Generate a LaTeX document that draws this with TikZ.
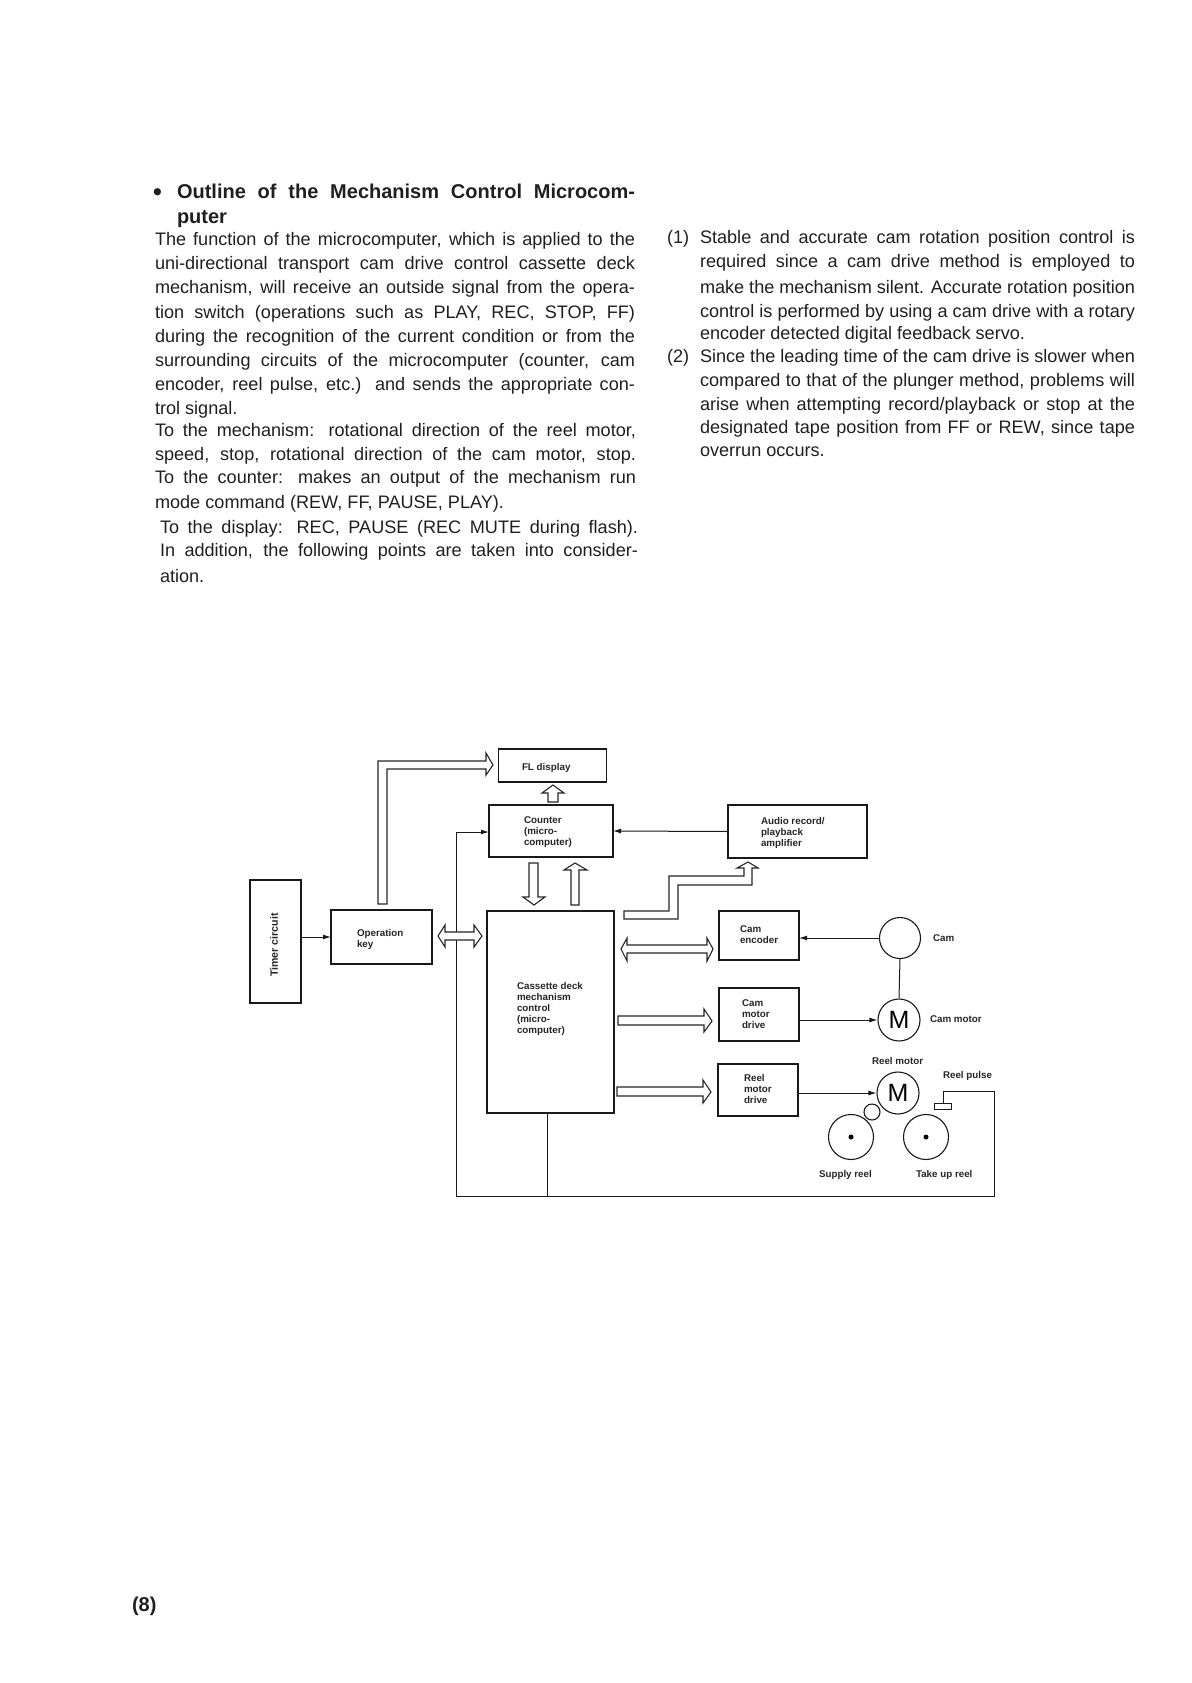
\documentclass[tikz,border=0pt]{standalone}
\usepackage{fontspec}
\setmainfont{Liberation Sans}
\usetikzlibrary{arrows.meta}
\newcommand{\bodyline}[4]{\node[txt,anchor=base west] (#4) at (#1,#2) {\fontsize{18.1}{20}\selectfont #3};}
\newcommand{\fitline}[5]{\node[txt,anchor=base west] (#5) at (#1,#2) {\fontsize{18.1}{20}\selectfont\makebox[#3pt][s]{#4}};}
\tikzset{
 txt/.style={inner sep=0pt,outer sep=0pt,text=black!88},
 blockbox/.style={draw=black!90,line width=1.5pt,fill=white,inner sep=0pt,outer sep=0pt},
 lab/.style={inner sep=0pt,outer sep=0pt,align=left,anchor=north west,font=\fontsize{9.8}{11}\selectfont\bfseries,text=black!85},
 hollow/.style={draw=black!85,line width=1.1pt,fill=white,line join=miter},
 wire/.style={draw=black!90,line width=1pt},
 sig/.style={wire,-{Latex[length=8pt,width=5pt]}},
 ring/.style={circle,draw=black!90,line width=1.1pt,inner sep=0pt,fill=white},
 hub/.style={circle,fill=black,minimum size=5pt,inner sep=0pt},
}
\begin{document}
\begin{tikzpicture}[x=1pt,y=-1pt]
\useasboundingbox (0,0) rectangle (1191,1683);
\node[txt,anchor=base west,font=\fontsize{25}{24}\selectfont\bfseries] (bullet) at (153,200) {\textbullet};
\node[txt,anchor=base west,font=\fontsize{20}{24}\selectfont\bfseries] (h1) at (177,198) {\makebox[458pt][s]{Outline of the Mechanism Control Microcom-}};
\node[txt,anchor=base west,font=\fontsize{20}{24}\selectfont\bfseries] (h2) at (177,223) {puter};
\fitline{155}{245}{480}{The function of the microcomputer, which is applied to the}{a1}
\fitline{155}{269}{480}{uni-directional transport cam drive control cassette deck}{a2}
\fitline{155}{293}{480}{mechanism, will receive an outside signal from the opera-}{a3}
\fitline{155}{318}{480}{tion switch (operations such as PLAY, REC, STOP, FF)}{a4}
\fitline{155}{342}{480}{during the recognition of the current condition or from the}{a5}
\fitline{155}{366}{480}{surrounding circuits of the microcomputer (counter, cam}{a6}
\fitline{155}{390}{480}{encoder, reel pulse, etc.) and sends the appropriate con-}{a7}
\bodyline{155}{414}{trol signal.}{a8}
\fitline{155}{436}{481}{To the mechanism: rotational direction of the reel motor,}{a9}
\fitline{155}{460}{481}{speed, stop, rotational direction of the cam motor, stop.}{a10}
\fitline{155}{483}{481}{To the counter: makes an output of the mechanism run}{a11}
\fitline{155}{508}{349}{mode command (REW, FF, PAUSE, PLAY).}{a12}
\fitline{160}{533}{478}{To the display: REC, PAUSE (REC MUTE during flash).}{a13}
\fitline{160}{556}{478}{In addition, the following points are taken into consider-}{a14}
\bodyline{160}{582}{ation.}{a15}
\bodyline{667}{243}{(1)}{b0}
\fitline{700}{243}{435}{Stable and accurate cam rotation position control is}{b1}
\fitline{700}{267}{435}{required since a cam drive method is employed to}{b2}
\fitline{700}{293}{435}{make the mechanism silent. Accurate rotation position}{b3}
\fitline{700}{317}{435}{control is performed by using a cam drive with a rotary}{b4}
\bodyline{700}{339}{encoder detected digital feedback servo.}{b5}
\bodyline{667}{362}{(2)}{b6}
\fitline{700}{362}{435}{Since the leading time of the cam drive is slower when}{b7}
\fitline{700}{386}{435}{compared to that of the plunger method, problems will}{b8}
\fitline{700}{410}{435}{arise when attempting record/playback or stop at the}{b9}
\fitline{700}{433}{435}{designated tape position from FF or REW, since tape}{b10}
\bodyline{700}{456}{overrun occurs.}{b11}
\node[txt,anchor=base west,font=\fontsize{20}{20}\selectfont\bfseries] (page) at (132,1611) {(8)};
% free wire corners
\coordinate (rc) at (994,1091);
\coordinate (br) at (994,1196);
\coordinate (bl) at (456,1196);
\coordinate (lt) at (456,832);
\coordinate (bm) at (547,1196);
% blocks
\node[blockbox,minimum width=108pt,minimum height=33pt] (fl) at (552.5,765.5) {};
\node[blockbox,minimum width=124pt,minimum height=52pt] (counter) at (551,831) {};
\node[blockbox,minimum width=127pt,minimum height=202pt] (cass) at (550.5,1012) {};
\node[blockbox,minimum width=139pt,minimum height=53pt] (audio) at (797.5,831.5) {};
\node[blockbox,minimum width=80pt,minimum height=49pt] (enc) at (759,935.5) {};
\node[blockbox,minimum width=80pt,minimum height=53pt] (cmd) at (759,1014.5) {};
\node[blockbox,minimum width=80pt,minimum height=52pt] (rmd) at (758,1090) {};
\node[blockbox,minimum width=51pt,minimum height=123pt] (timer) at (275.5,941.5) {};
\node[blockbox,minimum width=101pt,minimum height=54pt] (op) at (381.5,937) {};
% circles
\node[ring,minimum size=41pt] (cam) at (900,938) {};
\node[ring,minimum size=42pt,font=\fontsize{25}{25}\selectfont] (cm) at (899,1020) {M};
\node[ring,minimum size=42pt,font=\fontsize{25}{25}\selectfont] (rm) at (898,1093) {M};
\node[ring,minimum size=45pt] (sr) at (851,1137) {};
\node[ring,minimum size=45pt] (tr) at (926,1137) {};
\node[ring,minimum size=16pt] (idler) at (872,1112) {};
\node[hub] (sd) at (851,1137) {};
\node[hub] (td) at (926,1137) {};
\node[draw=black!90,line width=1pt,fill=white,minimum width=17pt,minimum height=6pt,inner sep=0pt,outer sep=0pt] (rpb) at (943,1106) {};
% connectors
\draw[sig] (timer.east |- op.west) -- (op.west);
\draw[sig] (audio.west) -- (counter.east);
\draw[sig] (cam.west) -- (enc.east |- cam.west);
\draw[wire] (cam.south) -- (cm.north);
\draw[sig] (cmd.east |- cm.west) -- (cm.west);
\draw[sig] (rmd.east |- rm.west) -- (rm.west);
\draw[wire] (rpb.north) |- (rc) -- (br) -- (bl) -- (lt);
\draw[sig] (lt) -- (counter.west |- lt);
\draw[wire] (bm |- cass.south) -- (bm);
% hollow arrows
\draw[hollow] (378,904) -- (378,761) -- (486,761) -- (486,753) -- (493,765) -- (486,775) -- (486,769) -- (387,769) -- (387,904) -- cycle;
\draw[hollow] (548,802) -- (548,793) -- (542,793) -- (553,785) -- (564,793) -- (558,793) -- (558,802) -- cycle;
\draw[hollow] (529,863) -- (529,897) -- (523,897) -- (534,905) -- (545,897) -- (538,897) -- (538,863) -- cycle;
\draw[hollow] (571,905) -- (571,870) -- (564,870) -- (575,863) -- (587,870) -- (579,870) -- (579,905) -- cycle;
\draw[hollow] (438,936) -- (445,925) -- (445,932) -- (474,932) -- (474,925) -- (482,936) -- (474,947) -- (474,940) -- (445,940) -- (445,947) -- cycle;
\draw[hollow] (624,911) -- (669,911) -- (669,876) -- (744,876) -- (744,868) -- (737,868) -- (748,862) -- (758,868) -- (752,868) -- (752,885) -- (678,885) -- (678,919) -- (624,919) -- cycle;
\draw[hollow] (621,949) -- (627,938) -- (627,945) -- (707,945) -- (707,938) -- (713,949) -- (707,961) -- (707,953) -- (627,953) -- (627,961) -- cycle;
\draw[hollow] (618,1016) -- (704,1016) -- (704,1009) -- (712,1021) -- (704,1032) -- (704,1025) -- (618,1025) -- cycle;
\draw[hollow] (617,1087) -- (703,1087) -- (703,1080) -- (711,1092) -- (703,1103) -- (703,1096) -- (617,1096) -- cycle;
% labels
\node[lab] (lfl) at (522,763) {FL display};
\node[lab] (lcount) at (524,817) {Counter\\(micro-\\computer)};
\node[lab] (lcass) at (517,982) {Cassette deck\\mechanism\\control\\(micro-\\computer)};
\node[lab] (laudio) at (761,817) {Audio record/\\playback\\amplifier};
\node[lab] (lenc) at (740,926) {Cam\\encoder};
\node[lab] (lcmd) at (742,1000) {Cam\\motor\\drive};
\node[lab] (lrmd) at (744,1074) {Reel\\motor\\drive};
\node[lab] (lop) at (357,929) {Operation\\key};
\node[lab,rotate=90,anchor=center,font=\fontsize{10.6}{11}\selectfont\bfseries] (ltimer) at (274,945) {Timer circuit};
\node[lab] (lcam) at (933,935) {Cam};
\node[lab] (lcm) at (930,1016) {Cam motor};
\node[lab] (lrm) at (872,1057) {Reel motor};
\node[lab] (lrp) at (943,1071) {Reel pulse};
\node[lab] (lsr) at (819,1170) {Supply reel};
\node[lab] (ltr) at (916,1170) {Take up reel};
\end{tikzpicture}
\end{document}
